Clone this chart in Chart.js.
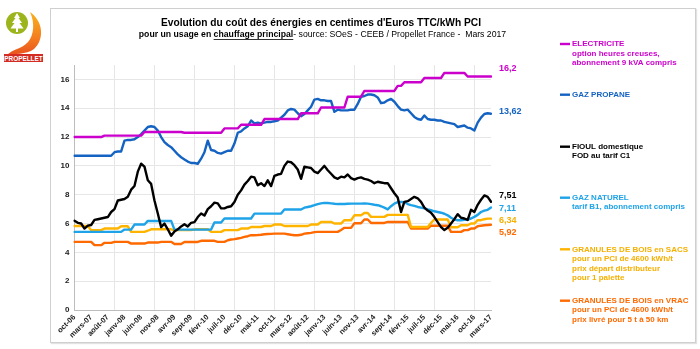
<!DOCTYPE html>
<html lang="fr">
<head>
<meta charset="utf-8">
<title>Evolution du coût des énergies</title>
<script src="https://cdn.jsdelivr.net/npm/chart.js@4.4.1/dist/chart.umd.min.js"></script>
<style>
  html, body { margin: 0; padding: 0; background: #fff; }
  #wrap { position: relative; width: 700px; height: 349px; overflow: hidden; }
  #frame { position: absolute; left: 50px; top: 8px; width: 644px; height: 333px;
           border: 1px solid #cfcfcf; box-shadow: 1px 1px 1px #e2e2e2; }
  #logo { position: absolute; left: 1px; top: 9px; }
  #chart { position: absolute; left: 0; top: 0; }
</style>
</head>
<body>
<div id="wrap">
  <div id="frame"></div>
  <svg id="logo" width="46" height="54" viewBox="0 0 46 54">
    <defs>
      <linearGradient id="flame" x1="0" y1="0" x2="0" y2="1">
        <stop offset="0" stop-color="#f9b21c"/>
        <stop offset="0.6" stop-color="#f47c20"/>
        <stop offset="1" stop-color="#e8501e"/>
      </linearGradient>
    </defs>
    <path d="M29 3 C42 12 44 30 33 40 C25 46 13 44 5 47 C11 40 21 40 27 33 C33 26 34 14 29 3 Z" fill="url(#flame)"/>
    <circle cx="16" cy="14" r="11" fill="#9db51d"/>
    <path d="M16 4 L19 9 L17.5 9 L21 14 L18.5 14 L22.5 19.5 L17 19.5 L17 23 L15 23 L15 19.5 L9.5 19.5 L13.5 14 L11 14 L14.5 9 L13 9 Z" fill="#fff"/>
    <rect x="3" y="45" width="39" height="8" fill="#d42b22"/>
    <text x="22.5" y="51.5" text-anchor="middle" font-family="Liberation Sans, Arial, sans-serif"
          font-weight="bold" font-size="6.4" fill="#fff">PROPELLET</text>
  </svg>
  <canvas id="chart" width="700" height="349"></canvas>
</div>
<script>
// mois de oct-06 à mars-17
const months = [
  'oct-06', 'nov-06', 'déc-06',
  'janv-07', 'févr-07', 'mars-07', 'avr-07', 'mai-07', 'juin-07', 'juil-07', 'août-07', 'sept-07', 'oct-07', 'nov-07', 'déc-07',
  'janv-08', 'févr-08', 'mars-08', 'avr-08', 'mai-08', 'juin-08', 'juil-08', 'août-08', 'sept-08', 'oct-08', 'nov-08', 'déc-08',
  'janv-09', 'févr-09', 'mars-09', 'avr-09', 'mai-09', 'juin-09', 'juil-09', 'août-09', 'sept-09', 'oct-09', 'nov-09', 'déc-09',
  'janv-10', 'févr-10', 'mars-10', 'avr-10', 'mai-10', 'juin-10', 'juil-10', 'août-10', 'sept-10', 'oct-10', 'nov-10', 'déc-10',
  'janv-11', 'févr-11', 'mars-11', 'avr-11', 'mai-11', 'juin-11', 'juil-11', 'août-11', 'sept-11', 'oct-11', 'nov-11', 'déc-11',
  'janv-12', 'févr-12', 'mars-12', 'avr-12', 'mai-12', 'juin-12', 'juil-12', 'août-12', 'sept-12', 'oct-12', 'nov-12', 'déc-12',
  'janv-13', 'févr-13', 'mars-13', 'avr-13', 'mai-13', 'juin-13', 'juil-13', 'août-13', 'sept-13', 'oct-13', 'nov-13', 'déc-13',
  'janv-14', 'févr-14', 'mars-14', 'avr-14', 'mai-14', 'juin-14', 'juil-14', 'août-14', 'sept-14', 'oct-14', 'nov-14', 'déc-14',
  'janv-15', 'févr-15', 'mars-15', 'avr-15', 'mai-15', 'juin-15', 'juil-15', 'août-15', 'sept-15', 'oct-15', 'nov-15', 'déc-15',
  'janv-16', 'févr-16', 'mars-16', 'avr-16', 'mai-16', 'juin-16', 'juil-16', 'août-16', 'sept-16', 'oct-16', 'nov-16', 'déc-16',
  'janv-17', 'févr-17', 'mars-17'
];

// libellés affichés sous l'axe (un mois sur cinq)
const tickLabels = [
  'oct-06', 'mars-07', 'août-07', 'janv-08', 'juin-08', 'nov-08', 'avr-09', 'sept-09', 'févr-10',
  'juil-10', 'déc-10', 'mai-11', 'oct-11', 'mars-12', 'août-12', 'janv-13', 'juin-13', 'nov-13',
  'avr-14', 'sept-14', 'févr-15', 'juil-15', 'déc-15', 'mai-16', 'oct-16', 'mars-17'
];
const yTicks = [0, 2, 4, 6, 8, 10, 12, 14, 16];

// centimes d'euros TTC / kWh PCI
const electricite = [
  12.0, 12.0, 12.0,
  12.0, 12.0, 12.0, 12.0, 12.0, 12.0, 12.1, 12.1, 12.1, 12.1, 12.1, 12.1,
  12.1, 12.1, 12.1, 12.1, 12.1, 12.1, 12.35, 12.35, 12.35, 12.35, 12.35, 12.35,
  12.35, 12.35, 12.35, 12.35, 12.35, 12.35, 12.3, 12.3, 12.3, 12.3, 12.3, 12.3,
  12.3, 12.3, 12.3, 12.3, 12.3, 12.3, 12.6, 12.6, 12.6, 12.6, 12.6, 12.85,
  12.85, 12.85, 12.85, 12.85, 12.85, 12.85, 13.25, 13.25, 13.25, 13.25, 13.25, 13.25,
  13.25, 13.25, 13.25, 13.25, 13.25, 13.65, 13.65, 13.65, 13.65, 13.65, 13.65, 14.05,
  14.05, 14.05, 14.05, 14.05, 14.05, 14.05, 14.05, 14.8, 14.8, 14.8, 14.8, 14.8,
  15.2, 15.2, 15.2, 15.2, 15.2, 15.2, 15.2, 15.2, 15.2, 15.2, 15.55, 15.55,
  15.8, 15.8, 15.8, 15.8, 15.8, 15.8, 16.1, 16.1, 16.1, 16.1, 16.1, 16.1,
  16.45, 16.45, 16.45, 16.45, 16.45, 16.45, 16.45, 16.2, 16.2, 16.2, 16.2, 16.2,
  16.2, 16.2, 16.2
];
const propane = [
  10.7, 10.7, 10.7,
  10.7, 10.7, 10.7, 10.7, 10.7, 10.7, 10.7, 10.7, 10.7, 10.95, 11.0, 11.0,
  11.75, 11.8, 11.8, 11.85, 12.0, 12.2, 12.45, 12.7, 12.75, 12.7, 12.45, 12.0,
  11.65, 11.45, 11.3, 11.05, 10.8, 10.6, 10.45, 10.3, 10.2, 10.2, 10.15, 10.5,
  10.95, 11.75, 11.1, 11.05, 10.9, 10.85, 10.95, 11.05, 11.05, 11.55, 12.3, 12.4,
  12.6, 12.75, 13.15, 12.95, 13.0, 12.95, 13.0, 13.05, 13.05, 13.1, 13.15, 13.35,
  13.55, 13.85, 13.95, 13.9, 13.65, 13.45, 13.6, 13.85, 14.1, 14.6, 14.65, 14.55,
  14.55, 14.5, 14.5, 13.75, 13.9, 13.85, 13.85, 13.85, 13.9, 13.9, 14.3, 14.8,
  14.85, 14.95, 14.95, 14.9, 14.75, 14.35, 14.4, 14.55, 14.65, 14.45, 14.15, 13.9,
  13.85, 13.9, 13.65, 13.4, 13.25, 13.2, 13.5, 13.25, 13.2, 13.2, 13.15, 13.15,
  13.05, 13.0, 12.95, 12.9, 12.7, 12.75, 12.8, 12.65, 12.6, 12.45, 13.0, 13.35,
  13.6, 13.65, 13.62
];
const fioul = [
  6.2, 6.05, 6.0,
  5.65, 5.85, 5.9, 6.25, 6.3, 6.35, 6.4, 6.45, 6.8, 7.0, 7.6, 7.65,
  7.7, 7.85, 8.35, 8.6, 9.6, 10.15, 9.95, 9.0, 8.75, 7.6, 6.7, 5.75,
  6.0, 5.6, 5.15, 5.45, 5.6, 5.8, 5.95, 5.8, 6.05, 6.1, 6.45, 6.7,
  6.55, 7.0, 7.2, 7.45, 7.4, 7.05, 7.05, 7.15, 7.2, 7.5, 8.0, 8.3,
  8.7, 8.95, 9.25, 9.2, 8.65, 8.8, 8.6, 9.0, 8.6, 9.3, 9.4, 9.45,
  10.0, 10.3, 10.25, 10.05, 9.75, 9.1, 9.95, 9.9, 9.85, 9.6, 9.5, 9.75,
  10.0, 9.7, 9.45, 9.2, 9.1, 9.25, 9.2, 9.4, 9.15, 9.05, 9.15, 9.2,
  9.1, 9.05, 8.95, 8.8, 8.9, 8.85, 8.8, 8.8, 8.45, 8.1, 7.8, 6.8,
  7.5, 7.55, 7.7, 7.85, 7.75, 7.5, 7.1, 6.9, 6.75, 6.45, 6.1, 5.75,
  5.55, 5.7, 6.0, 6.3, 6.65, 6.4, 6.35, 6.25, 6.95, 6.8, 7.3, 7.65,
  7.95, 7.85, 7.51
];
const gazNaturel = [
  5.42, 5.42, 5.42,
  5.42, 5.42, 5.42, 5.42, 5.42, 5.42, 5.42, 5.42, 5.42, 5.42, 5.42, 5.42,
  5.58, 5.58, 5.58, 5.93, 5.93, 5.93, 5.93, 6.18, 6.18, 6.18, 6.18, 6.18,
  6.18, 6.18, 6.18, 5.58, 5.58, 5.58, 5.58, 5.58, 5.58, 5.58, 5.58, 5.58,
  5.58, 5.58, 5.58, 6.07, 6.07, 6.07, 6.35, 6.35, 6.35, 6.35, 6.35, 6.35,
  6.35, 6.35, 6.35, 6.69, 6.69, 6.69, 6.69, 6.69, 6.69, 6.69, 6.69, 6.69,
  6.97, 6.97, 6.97, 6.97, 6.97, 6.97, 7.1, 7.15, 7.2, 7.27, 7.35, 7.4,
  7.43, 7.42, 7.4, 7.37, 7.35, 7.35, 7.36, 7.37, 7.38, 7.38, 7.38, 7.38,
  7.39, 7.38, 7.35, 7.3, 7.27, 7.2, 7.1, 6.98, 7.2, 7.38, 7.48, 7.5,
  7.48, 7.35, 7.28, 7.22, 7.15, 7.1, 7.05, 6.98, 6.92, 6.85, 6.8, 6.75,
  6.68, 6.57, 6.4, 6.28, 6.23, 6.23, 6.25, 6.28, 6.35, 6.46, 6.6, 6.8,
  6.9, 6.95, 7.11
];
const granulesSacs = [
  5.83, 5.83, 5.83,
  5.83, 5.83, 5.54, 5.54, 5.54, 5.54, 5.65, 5.65, 5.65, 5.65, 5.65, 5.81,
  5.81, 5.81, 5.42, 5.42, 5.42, 5.42, 5.42, 5.5, 5.6, 5.6, 5.6, 5.6,
  5.6, 5.6, 5.6, 5.54, 5.54, 5.54, 5.54, 5.54, 5.54, 5.6, 5.6, 5.6,
  5.6, 5.6, 5.42, 5.42, 5.42, 5.42, 5.54, 5.54, 5.54, 5.54, 5.54, 5.65,
  5.65, 5.65, 5.76, 5.76, 5.76, 5.76, 5.83, 5.83, 5.83, 5.93, 5.93, 5.93,
  5.83, 5.83, 5.83, 5.83, 5.83, 5.83, 5.83, 5.83, 5.93, 5.93, 5.93, 6.11,
  6.11, 6.11, 6.11, 6.0, 6.0, 6.0, 6.23, 6.23, 6.23, 6.57, 6.57, 6.57,
  6.73, 6.73, 6.46, 6.46, 6.46, 6.46, 6.46, 6.6, 6.6, 6.6, 6.6, 6.6,
  6.6, 6.6, 5.76, 5.76, 5.76, 5.76, 5.76, 5.76, 6.04, 6.28, 6.28, 6.28,
  6.28, 6.28, 5.74, 5.74, 5.74, 5.88, 5.88, 5.88, 6.0, 6.0, 6.23, 6.23,
  6.3, 6.34, 6.34
];
const granulesVrac = [
  4.73, 4.73, 4.73,
  4.73, 4.73, 4.73, 4.5, 4.5, 4.5, 4.66, 4.66, 4.66, 4.73, 4.73, 4.73,
  4.73, 4.73, 4.61, 4.61, 4.61, 4.61, 4.61, 4.68, 4.68, 4.68, 4.68, 4.73,
  4.73, 4.73, 4.73, 4.58, 4.58, 4.58, 4.72, 4.72, 4.72, 4.72, 4.72, 4.8,
  4.8, 4.8, 4.8, 4.8, 4.73, 4.73, 4.73, 4.84, 4.89, 4.92, 4.96, 5.0,
  5.07, 5.12, 5.19, 5.19, 5.2, 5.22, 5.26, 5.27, 5.28, 5.3, 5.3, 5.3,
  5.3, 5.26, 5.22, 5.19, 5.19, 5.22, 5.3, 5.33, 5.35, 5.4, 5.42, 5.42,
  5.42, 5.42, 5.42, 5.42, 5.42, 5.55, 5.7, 5.7, 5.7, 6.02, 6.02, 6.02,
  6.28, 6.28, 6.04, 6.04, 6.04, 6.04, 6.04, 6.11, 6.11, 6.11, 6.11, 6.11,
  6.11, 6.11, 5.65, 5.65, 5.65, 5.65, 5.65, 5.65, 5.85, 5.85, 5.85, 5.85,
  5.85, 5.85, 5.42, 5.42, 5.42, 5.42, 5.54, 5.54, 5.65, 5.65, 5.81, 5.85,
  5.88, 5.9, 5.92
];

const seriesNames = ['ELECTRICITE', 'GAZ PROPANE', 'FIOUL domestique', 'GAZ NATUREL',
  'GRANULES DE BOIS en SACS', 'GRANULES DE BOIS en VRAC'];
const seriesNotes = [
  ['option heures creuses,', 'abonnement 9 kVA compris'],
  [],
  ['FOD au tarif C1'],
  ['tarif B1, abonnement compris'],
  ['pour un PCI de 4600 kWh/t', 'prix départ distributeur', 'pour 1 palette'],
  ['pour un PCI de 4600 kWh/t', 'prix livré pour 5 t à 50 km']
];
const seriesData = [electricite, propane, fioul, gazNaturel, granulesSacs, granulesVrac];
const lineColors = ['#cc00cc', '#1463c2', '#000000', '#1fa3e8', '#ffb400', '#ff6a00'];
const textColors = ['#cc00cc', '#1463c2', '#000000', '#1fa3e8', '#f5b000', '#ff6a00'];

const FONT = '"Liberation Sans", Arial, sans-serif';

// placement of the legend blocks and end-value labels
const legendTop = [44, 94.7, 146.7, 197.7, 249.3, 300.7];
const endLabelShift = [-7.6, -2.5, -5.8, 1, 2.3, 7.8];

const decor = {
  id: 'decor',
  afterDraw(chart) {
    const ctx = chart.ctx;
    const yScale = chart.scales.y;
    const xScale = chart.scales.x;
    ctx.save();
    ctx.textBaseline = 'middle';

    // titre
    ctx.fillStyle = '#000';
    ctx.textAlign = 'center';
    ctx.font = 'bold 10.2px ' + FONT;
    ctx.fillText("Evolution du coût des énergies en centimes d'Euros TTC/kWh PCI", 321, 23);

    // sous-titre en trois morceaux
    const parts = [
      { t: 'pour un usage en ', f: 'bold 8.7px ' + FONT },
      { t: 'chauffage principal', f: 'bold 8.7px ' + FONT, u: true },
      { t: '- source: SOeS - CEEB / Propellet France -  Mars 2017', f: '8.7px ' + FONT }
    ];
    let total = 0;
    parts.forEach(p => { ctx.font = p.f; p.w = ctx.measureText(p.t).width; total += p.w; });
    let x = 322.5 - total / 2;
    ctx.textAlign = 'left';
    parts.forEach(p => {
      ctx.font = p.f;
      ctx.fillText(p.t, x, 34.5);
      if (p.u) {
        ctx.fillRect(x, 39, p.w, 0.8);
      }
      x += p.w;
    });

    // valeurs en fin de courbe
    const last = months.length - 1;
    const xEnd = xScale.getPixelForValue(last) + 8;
    ctx.font = 'bold 9px ' + FONT;
    seriesData.forEach((arr, k) => {
      const v = arr[last];
      ctx.fillStyle = textColors[k];
      ctx.fillText(String(v).replace('.', ','), xEnd, yScale.getPixelForValue(v) + endLabelShift[k]);
    });

    // légende
    seriesNames.forEach((name, k) => {
      const y0 = legendTop[k];
      ctx.fillStyle = lineColors[k];
      ctx.fillRect(560, y0 - 1.2, 10, 2.4);
      ctx.fillStyle = textColors[k];
      ctx.font = 'bold 8px ' + FONT;
      ctx.fillText(name, 572, y0);
      seriesNotes[k].forEach((line, j) => {
        ctx.fillText(line, 572, y0 + 9.5 * (j + 1));
      });
    });
    ctx.restore();
  }
};

const datasets = seriesData.map((arr, k) => ({
  label: seriesNames[k],
  data: arr,
  borderColor: lineColors[k],
  backgroundColor: lineColors[k],
  borderWidth: 2.4,
  pointRadius: 0,
  tension: 0,
  fill: false,
  borderJoinStyle: 'round',
  borderCapStyle: 'round'
}));

new Chart(document.getElementById('chart'), {
  type: 'line',
  data: { labels: months, datasets: datasets },
  options: {
    responsive: false,
    animation: false,
    layout: { padding: { left: 50, right: 209, top: 65, bottom: 9 } },
    plugins: {
      legend: { display: false },
      title: { display: false },
      tooltip: { enabled: false }
    },
    scales: {
      x: {
        type: 'category',
        offset: false,
        afterFit: scale => { scale.height = 30; },
        grid: {
          drawTicks: false,
          color: c => (c.index % 12 === 0 ? '#e6e6e6' : 'rgba(0,0,0,0)'),
          lineWidth: 1
        },
        border: { color: '#bdbdbd', width: 1 },
        ticks: {
          autoSkip: false,
          minRotation: 45,
          maxRotation: 45,
          padding: 3,
          color: '#222',
          font: { family: FONT, size: 7.5, weight: 'bold' },
          callback: (v, i) => (tickLabels.includes(months[i]) ? months[i] : '')
        }
      },
      y: {
        min: 0,
        max: 17,
        afterFit: scale => { scale.width = 24.5; },
        afterBuildTicks: scale => { scale.ticks = yTicks.map(v => ({ value: v })); },
        grid: { drawTicks: false, color: '#e6e6e6', lineWidth: 1 },
        border: { color: '#bdbdbd', width: 1 },
        ticks: {
          padding: 5,
          color: '#222',
          font: { family: FONT, size: 8, weight: 'bold' }
        }
      }
    }
  },
  plugins: [decor]
});
</script>
</body>
</html>
